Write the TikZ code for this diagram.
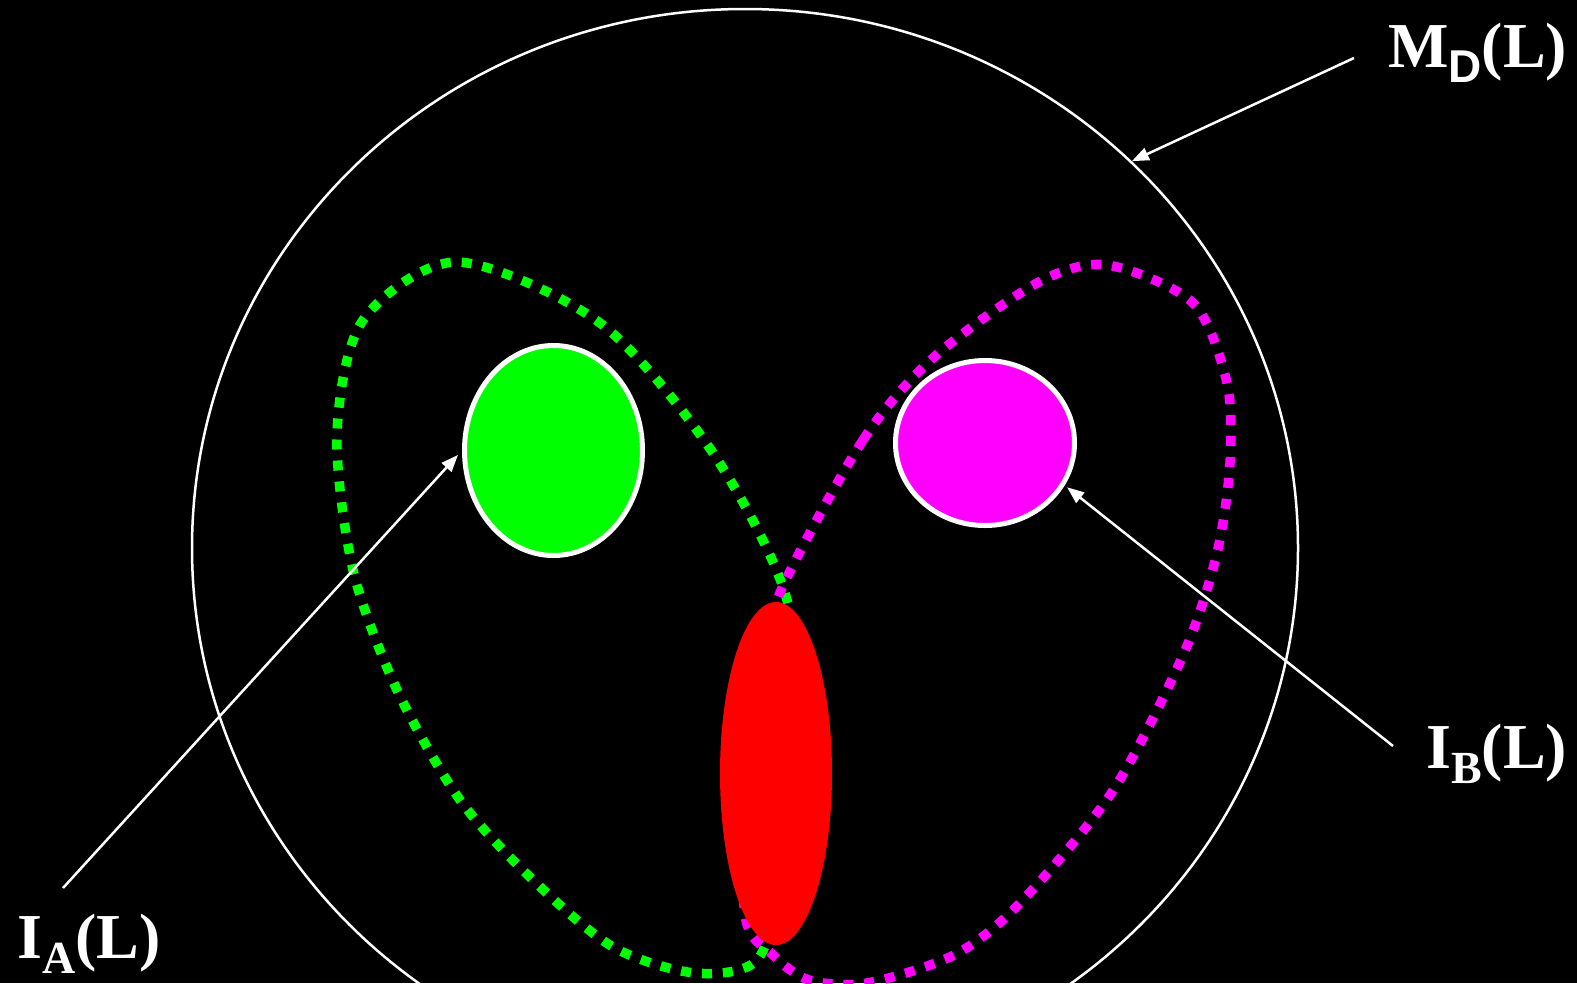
\documentclass[tikz,border=0pt]{standalone}
\usepackage{fontspec}
\setmainfont{Liberation Serif}
\newfontfamily\subsf{Liberation Sans}
\usetikzlibrary{positioning,shapes.geometric,arrows.meta}

\definecolor{setgreen}{RGB}{0,255,0}
\definecolor{setpink}{RGB}{255,0,255}
\definecolor{setred}{RGB}{255,0,0}

% lowered index of a set label
\newcommand{\lsub}[1]{\raisebox{-15pt}{\fontsize{46}{50}\selectfont #1}}

\begin{document}
\begin{tikzpicture}[x=1pt, y=-1pt, >={Triangle[length=17pt,width=13pt]},
    lbl/.style={white, inner sep=0pt, anchor=base west, font=\bfseries\fontsize{64}{70}\selectfont},
    pointer/.style={->, white, line width=2.5pt},
    blob/.style={ellipse, draw=white, line width=5pt, inner sep=0pt},
    loopline/.style={line width=9.5pt, dash pattern=on 10pt off 11pt}]
    \fill[black] (0,0) rectangle (1577,983);
    \useasboundingbox (0,0) rectangle (1577,983);

    \node[ellipse, draw=white, line width=2.5pt, inner sep=0pt, minimum width=1106pt, minimum height=1078pt] (domain) at (745,548) {};

    % dotted loops
    \draw[loopline, setgreen] plot[smooth cycle] coordinates {(787,600) (713,453) (600,323) (457,262) (363,320) (337,433) (353,570) (397,690) (460,800) (533,880) (613,947) (695,973) (757,960) (780,880) (790,740)};
    \draw[loopline, setpink] plot[smooth cycle] coordinates {(782,588) (863,440) (933,358) (1037,283) (1107,265) (1193,303) (1227,383) (1230,463) (1217,553) (1184,653) (1112,792) (1018,905) (954,955) (867,983) (809,980) (773,955) (745,915) (745,760) (765,660)};

    \node[blob, fill=setgreen, minimum width=178pt, minimum height=210pt] (setA) at (553.5,450.5) {};
    \node[blob, fill=setpink, minimum width=179pt, minimum height=165pt] (setB) at (985,443) {};
    \node[ellipse, fill=setred, inner sep=0pt, minimum width=112pt, minimum height=343pt] (overlap) at (776,773.5) {};

    \node[lbl] (mdLabel) at (1388,67) {M\lsub{\subsf D}(L)};
    \node[lbl] (iaLabel) at (17,958) {I\lsub{A}(L)};
    \node[lbl] (ibLabel) at (1426,768) {I\lsub{B}(L)};

    \coordinate (mdTail) at (1354,58);
    \coordinate (iaTail) at (63,888);
    \coordinate (ibTail) at (1393,746);

    \draw[pointer] (mdTail) -- (domain.45);
    \draw[pointer, shorten >=6pt] (iaTail) -- (setA.west);
    \draw[pointer, shorten >=3pt] (ibTail) -- (setB.-28);
\end{tikzpicture}
\end{document}
